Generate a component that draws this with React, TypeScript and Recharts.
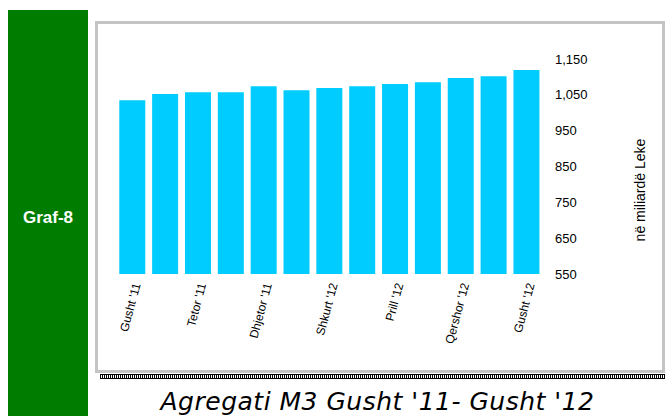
import React from "react";
import { BarChart, Bar, XAxis, YAxis, Label } from "recharts";

const months = [
  "Gusht '11",
  "Shtator '11",
  "Tetor '11",
  "Nëntor '11",
  "Dhjetor '11",
  "Janar '12",
  "Shkurt '12",
  "Mars '12",
  "Prill '12",
  "Maj '12",
  "Qershor '12",
  "Korrik '12",
  "Gusht '12",
];

const m3 = [1035, 1052, 1057, 1057, 1074, 1063, 1069, 1074, 1080, 1085, 1097, 1102, 1119];

const yTicks = [550, 650, 750, 850, 950, 1050, 1150];

const data = months.map((name, i) => ({ name, m3: m3[i] }));

const font = "'Liberation Sans', Arial, sans-serif";

const UnitLabel = () => (
  <text
    x={547}
    y={165}
    transform="rotate(-90, 547, 165)"
    textAnchor="middle"
    fontFamily={font}
    fontSize={14}
    fill="#000"
  >
    në miliardë Leke
  </text>
);

const App = () => {
  return (
    <div style={{ position: "absolute", left: 0, top: 0, width: 665, height: 416, background: "#fff", overflow: "hidden" }}>
      <div
        style={{
          position: "absolute",
          left: 8,
          top: 10,
          width: 80,
          height: 406,
          background: "#007d00",
          color: "#fff",
          fontFamily: font,
          fontWeight: "bold",
          fontSize: 17,
          display: "flex",
          alignItems: "center",
          justifyContent: "center",
          paddingTop: 10,
          boxSizing: "border-box",
        }}
      >
        Graf-8
      </div>
      <div
        style={{
          position: "absolute",
          left: 95,
          top: 21,
          width: 570,
          height: 352,
          border: "3px solid #c4c4c4",
          boxSizing: "border-box",
        }}
      />
      <div
        style={{
          position: "absolute",
          left: 100,
          top: 374,
          width: 565,
          height: 5,
          borderTop: "1px solid #000",
          borderBottom: "1px solid #000",
          boxSizing: "border-box",
          background: "repeating-linear-gradient(90deg, #000 0 1px, #fff 1px 2px)",
        }}
      />
      <div style={{ position: "absolute", left: 98, top: 25 }}>
        <BarChart
          width={565}
          height={345}
          data={data}
          margin={{ top: 34, right: 0, bottom: 0, left: 18 }}
          barCategoryGap="10%"
        >
          <XAxis
            dataKey="name"
            interval={1}
            axisLine={false}
            tickLine={false}
            height={96}
            angle={-75}
            textAnchor="end"
            tick={{ fontSize: 12, fill: "#000", fontFamily: font }}
          />
          <YAxis
            orientation="right"
            domain={[550, 1150]}
            ticks={yTicks}
            width={120}
            axisLine={false}
            tickLine={false}
            tickMargin={6}
            tickFormatter={(v: number) => v.toLocaleString("en-US")}
            tick={{ fontSize: 13, fill: "#000", fontFamily: font }}
          >
            <Label content={<UnitLabel />} />
          </YAxis>
          <Bar dataKey="m3" fill="#00ccff" isAnimationActive={false} />
        </BarChart>
      </div>
      <div
        style={{
          position: "absolute",
          left: 90,
          top: 388,
          width: 575,
          textAlign: "center",
          fontFamily: "'DejaVu Sans', sans-serif",
          fontStyle: "italic",
          fontSize: 25,
          lineHeight: "28px",
          letterSpacing: 0.5,
          color: "#000",
          whiteSpace: "nowrap",
        }}
      >
        Agregati M3 Gusht '11- Gusht '12
      </div>
    </div>
  );
};

export default App;
